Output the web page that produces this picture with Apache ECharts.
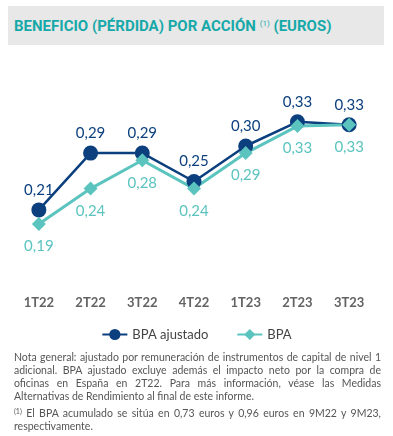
<!DOCTYPE html>
<html><head><meta charset="utf-8">
<script src="https://cdn.jsdelivr.net/npm/echarts@6/dist/echarts.min.js"></script>
<style>
html,body{margin:0;padding:0;background:#fff;width:393px;height:436px;overflow:hidden;}
#title{position:absolute;left:8px;top:6px;width:376px;height:39px;background:#e8e8e8;}
#title span{position:absolute;left:6px;top:11px;font-family:Roboto,sans-serif;font-weight:bold;font-size:15px;color:#17a9a9;white-space:nowrap;}
#title sup{font-size:8px;vertical-align:5px;font-weight:normal;}
#chart{position:absolute;left:0;top:0;width:393px;height:436px;}
#note{position:absolute;left:14px;top:351px;width:367px;font-family:Lato,sans-serif;font-size:10.5px;line-height:13px;color:#555;text-align:justify;}
#note p{margin:0 0 2px 0;}
#note sup{font-size:7px;vertical-align:3px;}
</style></head>
<body>
<div id="chart"></div>
<div id="title"><span>BENEFICIO (PÉRDIDA) POR ACCIÓN <sup>(1)</sup> (EUROS)</span></div>
<div id="note">
<p>Nota general: ajustado por remuneración de instrumentos de capital de nivel 1 adicional. BPA ajustado excluye además el impacto neto por la compra de oficinas en España en 2T22. Para más información, véase las Medidas Alternativas de Rendimiento al final de este informe.</p>
<p><sup>(1)</sup> El BPA acumulado se sitúa en 0,73 euros y 0,96 euros en 9M22 y 9M23, respectivamente.</p>
</div>
<script>
const categories = ['1T22','2T22','3T22','4T22','1T23','2T23','3T23'];
const bpaAjustado = [0.21,0.29,0.29,0.25,0.30,0.334,0.33];
const bpa = [0.19,0.24,0.28,0.24,0.29,0.328,0.33];
const navy = '#0b3f7e';
const teal = '#5bc4bf';
const fmt = p => (Math.round(p.value*100)/100).toFixed(2).replace('.', ',');
const chart = echarts.init(document.getElementById('chart'));
chart.setOption({
  animation:false,
  grid:{left:13,right:18,top:75,bottom:148},
  legend:{top:323,left:'center',itemWidth:25,itemHeight:14,itemGap:28,
    textStyle:{fontFamily:'Lato',fontSize:13,color:'#444'},
    data:['BPA ajustado','BPA']},
  xAxis:{type:'category',data:categories,boundaryGap:true,
    axisLine:{show:false},axisTick:{show:false},
    axisLabel:{margin:8,fontFamily:'Lato',fontSize:13,fontWeight:'bold',color:'#636363'}},
  yAxis:{type:'value',min:0.10,max:0.40,show:false,splitLine:{show:false}},
  series:[
    {name:'BPA ajustado',type:'line',data:bpaAjustado,symbol:'circle',symbolSize:15,
      itemStyle:{color:navy},lineStyle:{color:navy,width:2.5},
      label:{show:true,position:'top',distance:5,formatter:fmt,fontFamily:'Lato',fontSize:15,color:navy}},
    {name:'BPA',type:'line',data:bpa,symbol:'diamond',symbolSize:14,
      itemStyle:{color:teal},lineStyle:{color:teal,width:3},
      label:{show:true,position:'bottom',distance:8,formatter:fmt,fontFamily:'Lato',fontSize:15,color:teal}}
  ]
});
</script>
</body></html>
